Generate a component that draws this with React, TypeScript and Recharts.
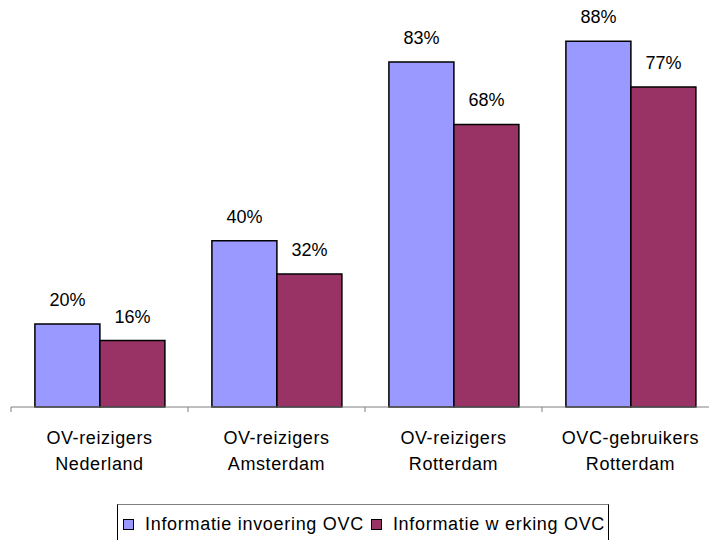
import React from "react";
import { BarChart, Bar, XAxis, YAxis, LabelList } from "recharts";

const groups = [
  ["OV-reizigers", "Nederland"],
  ["OV-reizigers", "Amsterdam"],
  ["OV-reizigers", "Rotterdam"],
  ["OVC-gebruikers", "Rotterdam"],
];
const invoering = [20, 40, 83, 88];
const werking = [16, 32, 68, 77];
const seriesNames = ["Informatie invoering OVC", "Informatie w erking OVC"];
const colors = ["#9999FF", "#993366"];

const data = groups.map((g, i) => ({
  name: g.join("\n"),
  invoering: invoering[i],
  werking: werking[i],
}));

const FONT = "'Liberation Sans', Arial, sans-serif";

const CategoryTick = (props: any) => {
  const { x, y, payload, index } = props;
  const half = 177 / 2;
  const lines = String(payload.value).split("\n");
  return (
    <g>
      <line x1={x - half} x2={x - half} y1={y - 8} y2={y - 3} stroke="#808080" />
      {index === groups.length - 1 && (
        <line x1={x + half} x2={x + half} y1={y - 8} y2={y - 3} stroke="#808080" />
      )}
      <text
        x={x}
        y={y}
        textAnchor="middle"
        fontFamily={FONT}
        fontSize={18}
        letterSpacing={0.6}
        fill="#000"
      >
        {lines.map((l, i) => (
          <tspan key={i} x={x} y={y + 29 + i * 26}>
            {l}
          </tspan>
        ))}
      </text>
    </g>
  );
};

const LegendBox = () => (
  <div
    style={{
      position: "absolute",
      left: 117,
      top: 504,
      width: 492,
      height: 40,
      border: "1px solid #000",
      borderTopColor: "#808080",
      display: "flex",
      alignItems: "flex-start",
      paddingLeft: 5,
      paddingTop: 9,
      fontFamily: FONT,
      fontSize: 18,
      letterSpacing: 0.7,
      lineHeight: "20px",
      color: "#000",
      boxSizing: "border-box",
      whiteSpace: "nowrap",
    }}
  >
    {seriesNames.map((n, i) => (
      <span key={n} style={{ display: "flex", alignItems: "center", marginRight: 7 }}>
        <span
          style={{
            width: 9,
            height: 9,
            background: colors[i],
            border: "1px solid #000",
            marginRight: 11,
            display: "inline-block",
          }}
        />
        {n}
      </span>
    ))}
  </div>
);

export default function App() {
  return (
    <div
      style={{
        position: "fixed",
        left: 0,
        top: 0,
        width: 709,
        height: 540,
        overflow: "hidden",
        background: "#fff",
      }}
    >
      <BarChart
        width={720}
        height={540}
        data={data}
        margin={{ top: 33, right: 1, left: 11, bottom: 0 }}
        barCategoryGap="13.5%"
        barGap={0}
      >
        <XAxis
          dataKey="name"
          axisLine={{ stroke: "#808080" }}
          tickLine={false}
          tick={<CategoryTick />}
          height={133}
          interval={0}
        />
        <YAxis hide domain={[0, 90]} width={0} />
        <Bar dataKey="invoering" fill={colors[0]} stroke="#000" strokeWidth={1.5} isAnimationActive={false}>
          <LabelList
            dataKey="invoering"
            position="top"
            offset={18}
            formatter={(v: any) => `${v}%`}
            style={{ fontFamily: FONT, fontSize: 18, fill: "#000" }}
          />
        </Bar>
        <Bar dataKey="werking" fill={colors[1]} stroke="#000" strokeWidth={1.5} isAnimationActive={false}>
          <LabelList
            dataKey="werking"
            position="top"
            offset={18}
            formatter={(v: any) => `${v}%`}
            style={{ fontFamily: FONT, fontSize: 18, fill: "#000" }}
          />
        </Bar>
      </BarChart>
      <LegendBox />
    </div>
  );
}
